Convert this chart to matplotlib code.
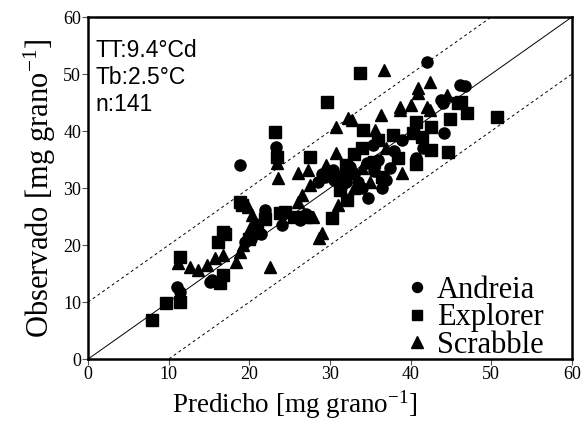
import matplotlib
matplotlib.use("Agg")
import matplotlib.pyplot as plt
import numpy as np

plt.rcParams['mathtext.fontset'] = 'custom'
plt.rcParams['mathtext.rm'] = 'Liberation Serif'
plt.rcParams['mathtext.it'] = 'Liberation Serif:italic'
plt.rcParams['mathtext.default'] = 'rm'

# Andreia (circles)
andreia_x = [11.0, 11.4, 15.1, 15.4, 18.8, 19.5, 20.2, 21.5, 21.9, 22.0, 23.3, 23.4, 24.0, 26.3, 27.0,
             28.5, 29.0, 29.4, 30.0, 30.4, 30.5, 31.0, 31.5, 32.0, 32.5, 33.0, 33.5, 34.0, 34.6, 34.7,
             35.3, 35.5, 36.0, 36.5, 37.0, 37.5, 38.0, 39.0, 40.7, 41.5, 42.1, 43.8, 44.0, 44.2, 46.1,
             46.8, 32.0]
andreia_y = [12.6, 11.8, 13.5, 13.8, 34.0, 20.5, 21.0, 22.0, 26.1, 25.5, 37.2, 35.8, 23.5, 24.4, 25.5,
             31.0, 32.5, 31.9, 33.0, 33.2, 31.5, 32.0, 30.5, 31.0, 33.7, 32.5, 31.0, 30.0, 34.4, 28.2,
             37.5, 33.0, 35.0, 30.0, 31.5, 33.5, 36.5, 38.4, 35.2, 37.0, 52.1, 45.4, 45.0, 39.6, 48.1,
             48.0, 33.0]

# Explorer (squares)
explorer_x = [7.9, 9.7, 11.4, 11.4, 16.4, 16.7, 16.1, 16.7, 17.0, 18.8, 19.1, 20.0, 21.0, 22.0, 23.2,
              23.4, 23.8, 24.4, 25.5, 27.5, 27.0, 29.6, 30.2, 31.2, 32.1, 32.0, 33.7, 34.1, 34.0, 35.5,
              36.0, 37.8, 38.4, 40.3, 40.7, 40.7, 41.4, 42.6, 42.6, 44.6, 44.9, 45.9, 46.3, 47.0, 50.7,
              36.5, 33.0]
explorer_y = [6.8, 9.8, 10.0, 17.9, 13.3, 14.7, 20.5, 22.3, 22.0, 27.5, 27.0, 21.0, 23.5, 24.5, 39.8,
              35.5, 25.6, 25.8, 25.0, 35.4, 25.0, 45.1, 24.7, 29.6, 27.9, 34.0, 50.2, 40.2, 37.0, 34.5,
              38.5, 39.3, 35.2, 39.6, 41.6, 34.3, 39.0, 40.8, 36.7, 36.3, 42.2, 44.9, 45.1, 43.1, 42.5,
              32.0, 36.0]

# Scrabble (triangles)
scrabble_x = [11.2, 12.6, 13.7, 14.7, 15.7, 16.7, 18.4, 18.8, 19.2, 19.8, 20.1, 20.3, 20.9, 22.6, 23.4,
              23.6, 26.0, 26.0, 26.6, 27.3, 27.5, 27.9, 28.7, 29.0, 30.8, 30.8, 32.3, 32.7, 35.6, 36.4,
              36.7, 38.7, 38.7, 39.0, 40.1, 40.9, 40.9, 42.1, 42.4, 42.4, 44.5, 33.0, 35.0, 37.0, 31.0,
              29.5, 34.0]
scrabble_y = [16.8, 16.1, 15.6, 16.5, 17.7, 18.2, 17.0, 18.8, 20.0, 26.7, 23.0, 25.3, 23.5, 16.2, 34.4,
              31.7, 32.6, 27.5, 28.8, 33.2, 30.5, 24.9, 21.2, 22.1, 36.1, 40.7, 42.3, 41.9, 40.2, 42.8,
              50.7, 43.7, 44.2, 32.6, 44.6, 46.7, 47.5, 44.2, 48.6, 43.7, 46.3, 30.0, 31.0, 37.0, 27.0,
              34.0, 33.5]

ticks = [0, 10, 20, 30, 40, 50, 60]
annot = ["TT:9.4°Cd", "Tb:2.5°C", "n:141"]

fig = plt.figure(figsize=(5.87, 4.29), dpi=100)
ax = fig.add_axes([0.150, 0.163, 0.824, 0.797])

line = np.array([0, 60])
ax.plot(line, line, color='black', lw=0.7)
ax.plot(line, line + 10, color='black', lw=0.7, ls=(0, (3, 3)))
ax.plot(line, line - 10, color='black', lw=0.7, ls=(0, (3, 3)))

ax.plot(andreia_x, andreia_y, 'o', color='black', ms=8, ls='none', label='Andreia')
ax.plot(explorer_x, explorer_y, 's', color='black', ms=8, ls='none', label='Explorer')
ax.plot(scrabble_x, scrabble_y, '^', color='black', ms=9, ls='none', label='Scrabble')

ax.set_xlim(0, 60)
ax.set_ylim(0, 60)
ax.set_xticks(ticks)
ax.set_yticks(ticks)
ax.set_xticklabels([str(t) for t in ticks], fontfamily='Liberation Serif', fontsize=13)
ax.set_yticklabels([str(t) for t in ticks], fontfamily='Liberation Serif', fontsize=13)
ax.tick_params(direction='out', length=4, width=0.8, pad=1, color='#555555')
for s in ax.spines.values():
    s.set_linewidth(1.8)

ax.set_xlabel(r'Predicho [mg grano$^{-1}$]', fontfamily='Liberation Serif', fontsize=19.5, labelpad=2)
ax.xaxis.set_label_coords(0.428, -0.085, transform=ax.transAxes)
ax.xaxis.label.set_verticalalignment('top')
ax.set_ylabel(r'Observado [mg grano$^{-1}$]', fontfamily='Liberation Serif', fontsize=22, labelpad=4)

ax.text(0.015, 0.935, "\n".join(annot), transform=ax.transAxes, ha='left', va='top',
        fontfamily='Liberation Sans', fontsize=16.5, linespacing=1.2)

leg = ax.legend(loc='lower right', frameon=False, prop={'family': 'Liberation Serif', 'size': 22},
                handletextpad=0.15, labelspacing=-0.05, borderaxespad=0.0, handlelength=1.0,
                markerscale=0.9, borderpad=0.2, bbox_to_anchor=(0.955, -0.02))

fig.savefig('out.png', dpi=100)
